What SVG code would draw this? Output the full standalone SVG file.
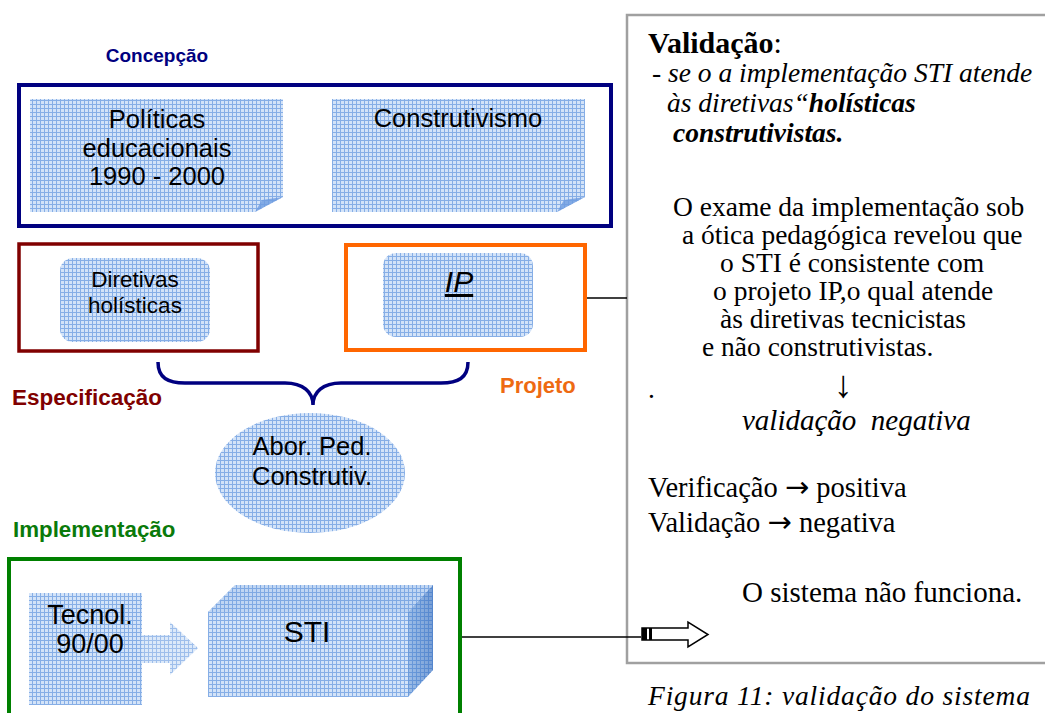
<svg xmlns="http://www.w3.org/2000/svg" width="1045" height="713" viewBox="0 0 1045 713">
<defs>
<pattern id="grid" width="4" height="4" patternUnits="userSpaceOnUse">
<rect width="4" height="4" fill="#d3e3f8"/>
<path d="M0 0.5H4M0.5 0V4" stroke="#86aee6" stroke-width="1"/>
</pattern>
<linearGradient id="side" x1="0" y1="0" x2="1" y2="0">
<stop offset="0" stop-color="#3a78c8" stop-opacity="0.35"/>
<stop offset="1" stop-color="#2a64b8" stop-opacity="0.55"/>
</linearGradient>
<style>
.grid{fill:url(#grid)}
.sans{font-family:"Liberation Sans",Arial,sans-serif;fill:#000}
.lbl{font-family:"Liberation Sans",Arial,sans-serif;font-weight:bold}
.serif{font-family:"Liberation Serif","Times New Roman",serif;fill:#000}
.arr{font-family:"DejaVu Sans",sans-serif}
.conn{stroke:#000;stroke-width:1.5;fill:none}
</style>
</defs>
<rect width="1045" height="713" fill="#fff"/>

<g id="panel">
<rect x="627" y="15" width="440" height="648" fill="#fff" stroke="#a0a0a0" stroke-width="2.5"/>
<text class="serif" x="648" y="53" font-size="30"><tspan font-weight="bold">Validação</tspan>:</text>
<text class="serif" x="652" y="82" font-style="italic" font-size="27.5">- se o a implementação STI atende</text>
<text class="serif" x="667" y="112" font-style="italic" font-size="27.5">às diretivas“<tspan font-weight="bold">holísticas</tspan></text>
<text class="serif" x="673" y="142" font-style="italic" font-weight="bold" font-size="27.5">construtivistas.</text>
<text class="serif" x="673" y="216" font-size="27.5">O exame da implementação sob</text>
<text class="serif" x="682" y="244" font-size="27.5">a ótica pedagógica revelou que</text>
<text class="serif" x="720" y="272" font-size="27.5">o STI é consistente com</text>
<text class="serif" x="713" y="300" font-size="27.5">o projeto IP,o qual atende</text>
<text class="serif" x="720" y="328" font-size="27.5">às diretivas tecnicistas</text>
<text class="serif" x="702" y="356" font-size="27.5">e não construtivistas.</text>
<text class="serif" x="648" y="398" font-size="27.5">.</text>
<text class="serif" x="843" y="397" font-size="38" text-anchor="middle">↓</text>
<text class="serif" x="742" y="430" font-style="italic" font-size="29" xml:space="preserve">validação  negativa</text>
<text class="serif" x="648" y="497" font-size="28.5">Verificação <tspan class="arr" font-size="29">→</tspan> positiva</text>
<text class="serif" x="648" y="532" font-size="28.5">Validação <tspan class="arr" font-size="29">→</tspan> negativa</text>
<text class="serif" x="742" y="602" font-size="29">O sistema não funciona.</text>
<g id="hollow-arrow">
<path d="M642 628H688V622L708 634.5L688 647V640H642Z" fill="#fff" stroke="#000" stroke-width="1.5"/>
<rect x="642" y="628" width="5" height="12" fill="#000"/>
<rect x="649" y="628" width="3" height="12" fill="#000"/>
</g>
</g>
<text class="serif" x="648" y="705" font-style="italic" font-size="27.5" textLength="382" lengthAdjust="spacing">Figura 11: validação do sistema</text>

<g id="connectors">
<line class="conn" x1="586" y1="298" x2="627" y2="298"/>
<line class="conn" x1="462" y1="637" x2="641" y2="637"/>
<path d="M158 362C158 378 168 383 185 383L285 383C303 383 313 392 313 405C313 392 323 383 341 383L441 383C458 383 468 378 468 362" fill="none" stroke="#000080" stroke-width="3.5"/>
</g>

<g id="concepcao">
<text class="lbl" x="157" y="62" font-size="19" fill="#000080" text-anchor="middle">Concepção</text>
<rect x="19" y="85" width="592" height="141" fill="none" stroke="#000080" stroke-width="4"/>
</g>
<g id="politicas">
<path class="grid" d="M30 99H283V197L255 212H30Z"/>
<path d="M255 212L262 200L283 197Z" fill="#6d9be0" opacity="0.8"/>
<text class="sans" font-size="25.5" text-anchor="middle"><tspan x="157" y="128">Políticas</tspan><tspan x="157" y="157">educacionais</tspan><tspan x="157" y="185">1990 - 2000</tspan></text>
</g>
<g id="construtivismo">
<path class="grid" d="M332 99H585V197L557 212H332Z"/>
<path d="M557 212L564 200L585 197Z" fill="#6d9be0" opacity="0.8"/>
<text class="sans" x="458" y="127" font-size="25.5" text-anchor="middle">Construtivismo</text>
</g>

<g id="especificacao">
<rect x="19" y="244" width="239" height="107" fill="none" stroke="#800000" stroke-width="3.5"/>
<rect class="grid" x="60" y="258" width="150" height="84" rx="13"/>
<text class="sans" font-size="22.5" text-anchor="middle"><tspan x="135" y="287">Diretivas</tspan><tspan x="135" y="313">holísticas</tspan></text>
<text class="lbl" x="12" y="405" font-size="22.5" fill="#800000">Especificação</text>
</g>

<g id="projeto">
<rect x="346" y="245" width="239" height="105" fill="none" stroke="#ff6600" stroke-width="4"/>
<rect class="grid" x="383" y="253" width="150" height="84" rx="13"/>
<text class="sans" x="459" y="292" font-size="30" font-style="italic" text-decoration="underline" text-anchor="middle">IP</text>
<text class="lbl" x="500" y="393" font-size="22" fill="#ee6a12">Projeto</text>
</g>

<g id="abordagem">
<ellipse class="grid" cx="310" cy="473" rx="95" ry="60"/>
<text class="sans" font-size="25.5" text-anchor="middle"><tspan x="312" y="455">Abor. Ped.</tspan><tspan x="312" y="485">Construtiv.</tspan></text>
</g>

<g id="implementacao">
<text class="lbl" x="13" y="537" font-size="22.3" fill="#0a7a0a">Implementação</text>
<rect x="9" y="559" width="451" height="170" fill="none" stroke="#008000" stroke-width="4"/>
</g>
<g id="tecnol">
<rect class="grid" x="29" y="593" width="113" height="112"/>
<polygon class="grid" points="142,635 170,635 170,622 198,648 170,675 170,663 142,663" opacity="0.8"/>
<text class="sans" font-size="27" text-anchor="middle"><tspan x="90" y="624">Tecnol.</tspan><tspan x="90" y="653">90/00</tspan></text>
</g>
<g id="sti">
<rect class="grid" x="208" y="612" width="200" height="85"/>
<polygon class="grid" points="208,612 235,585 433,585 408,612"/>
<polygon points="208,612 235,585 433,585 408,612" fill="#5a8fd8" opacity="0.15"/>
<polygon class="grid" points="408,612 433,585 433,670 408,697"/>
<polygon points="408,612 433,585 433,670 408,697" fill="url(#side)"/>
<text class="sans" x="307" y="642" font-size="30" text-anchor="middle">STI</text>
</g>
</svg>
